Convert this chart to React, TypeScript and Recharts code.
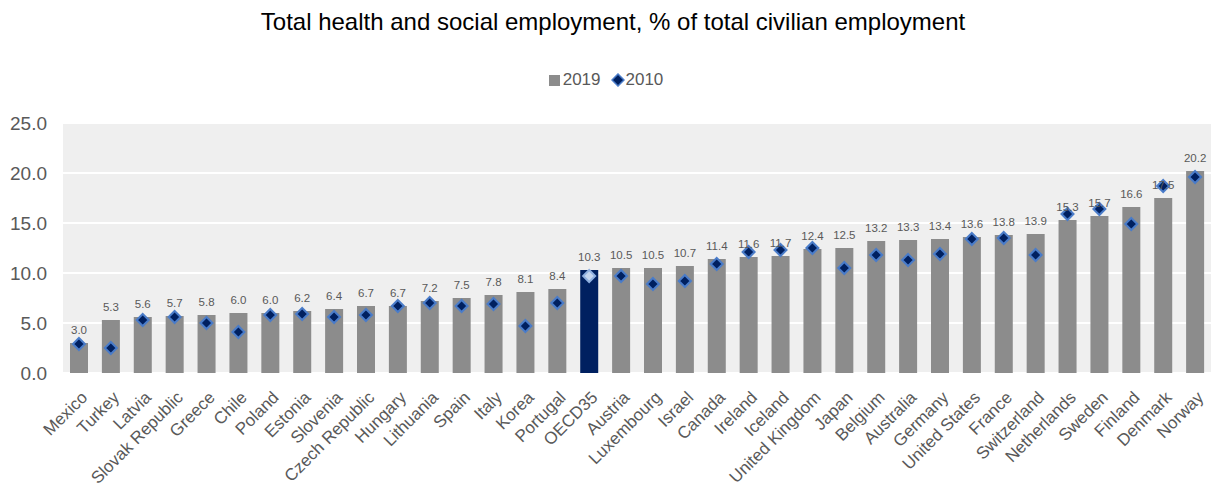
import React from "react";
import {
  ComposedChart,
  Bar,
  Scatter,
  XAxis,
  YAxis,
  CartesianGrid,
  Legend,
  LabelList,
  Cell,
} from "recharts";

const countries = [
  "Mexico", "Turkey", "Latvia", "Slovak Republic", "Greece", "Chile", "Poland", "Estonia",
  "Slovenia", "Czech Republic", "Hungary", "Lithuania", "Spain", "Italy", "Korea", "Portugal",
  "OECD35", "Austria", "Luxembourg", "Israel", "Canada", "Ireland", "Iceland", "United Kingdom",
  "Japan", "Belgium", "Australia", "Germany", "United States", "France", "Switzerland",
  "Netherlands", "Sweden", "Finland", "Denmark", "Norway",
];

const values2019 = [
  3.0, 5.3, 5.6, 5.7, 5.8, 6.0, 6.0, 6.2, 6.4, 6.7, 6.7, 7.2, 7.5, 7.8, 8.1, 8.4,
  10.3, 10.5, 10.5, 10.7, 11.4, 11.6, 11.7, 12.4, 12.5, 13.2, 13.3, 13.4, 13.6, 13.8, 13.9,
  15.3, 15.7, 16.6, 17.5, 20.2,
];

const values2010 = [
  2.9, 2.5, 5.3, 5.6, 5.0, 4.1, 5.8, 5.9, 5.6, 5.8, 6.7, 7.0, 6.7, 6.9, 4.7, 7.0,
  9.7, 9.7, 8.9, 9.2, 10.9, 12.1, 12.3, 12.5, 10.5, 11.8, 11.3, 11.9, 13.4, 13.5, 11.8,
  15.9, 16.4, 14.9, 18.7, 19.6,
];

const yTicks = [0, 5, 10, 15, 20, 25];

const HIGHLIGHT = "OECD35";
const GREY = "#8c8c8c";
const NAVY = "#002060";
const TEXT = "#595959";
const FONT = "Liberation Sans, Arial, sans-serif";

const data = countries.map((c, i) => ({
  country: c,
  v2019: values2019[i],
  v2010: values2010[i],
}));

function Diamond(props: any) {
  const { cx, cy, payload } = props;
  if (cx == null || cy == null) return null;
  const r = 6;
  const hi = payload && payload.country === HIGHLIGHT;
  return (
    <polygon
      points={`${cx},${cy - r} ${cx + r},${cy} ${cx},${cy + r} ${cx - r},${cy}`}
      fill={hi ? "#c5d6ef" : NAVY}
      stroke={hi ? "#8fb0e0" : "#4a7cc9"}
      strokeWidth={2}
    />
  );
}

function XTick(props: any) {
  const { x, y, payload } = props;
  const ax = x + 1;
  const ay = y + 9;
  return (
    <text
      x={ax}
      y={ay}
      transform={`rotate(-45, ${ax}, ${ay})`}
      textAnchor="end"
      dominantBaseline="hanging"
      fontSize={17}
      fill={TEXT}
      fontFamily={FONT}
    >
      {payload.value}
    </text>
  );
}

function LegendContent() {
  return (
    <div
      style={{
        display: "flex",
        justifyContent: "center",
        alignItems: "center",
        fontSize: 17,
        color: TEXT,
        fontFamily: FONT,
        height: 24,
      }}
    >
      <svg width={13} height={13} style={{ marginRight: 2 }}>
        <rect x={1} y={1} width={11} height={11} fill={GREY} />
      </svg>
      <span style={{ marginRight: 10 }}>2019</span>
      <svg width={14} height={14} style={{ marginRight: 1 }}>
        <polygon points="7,1 13,7 7,13 1,7" fill={NAVY} stroke="#4a7cc9" strokeWidth={1.5} />
      </svg>
      <span>2010</span>
    </div>
  );
}

export default function App() {
  return (
    <div
      style={{
        position: "absolute",
        left: 0,
        top: 0,
        width: 1213,
        height: 495,
        background: "#fff",
        fontFamily: FONT,
      }}
    >
      <div
        style={{
          position: "absolute",
          top: 8,
          left: 0,
          width: 1226,
          textAlign: "center",
          fontSize: 24,
          color: "#000",
        }}
      >
        Total health and social employment, % of total civilian employment
      </div>
      <ComposedChart
        width={1213}
        height={495}
        data={data}
        margin={{ top: 99, right: 2, bottom: 0, left: 0 }}
      >
        <CartesianGrid
          vertical={false}
          fill="#efefef"
          stroke="#ffffff"
          strokeWidth={2}
        />
        <XAxis
          dataKey="country"
          interval={0}
          axisLine={false}
          tickLine={false}
          height={122}
          tick={<XTick />}
        />
        <YAxis
          width={63}
          domain={[0, 25]}
          ticks={yTicks}
          axisLine={false}
          tickLine={false}
          tickMargin={10}
          tickFormatter={(v: number) => v.toFixed(1)}
          tick={{ fontSize: 19, fill: TEXT, fontFamily: FONT }}
        />
        <Legend
          verticalAlign="top"
          align="center"
          content={<LegendContent />}
          wrapperStyle={{ top: 68 }}
        />
        <Bar dataKey="v2019" name="2019" fill={GREY} barSize={18} isAnimationActive={false}>
          {data.map((d) => (
            <Cell key={d.country} fill={d.country === HIGHLIGHT ? NAVY : GREY} />
          ))}
          <LabelList
            dataKey="v2019"
            position="top"
            offset={9}
            fill={TEXT}
            fontSize={11.5}
            formatter={(v: any) => Number(v).toFixed(1)}
          />
        </Bar>
        <Scatter dataKey="v2010" name="2010" shape={<Diamond />} isAnimationActive={false} />
      </ComposedChart>
    </div>
  );
}
